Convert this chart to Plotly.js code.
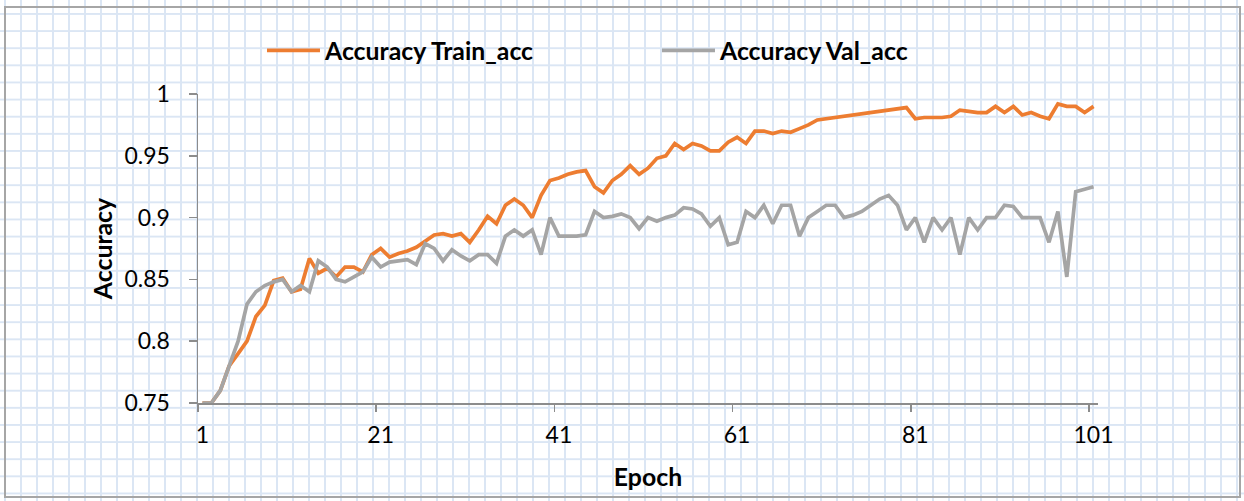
<!DOCTYPE html>
<html>
<head>
<meta charset="utf-8">
<script src="https://cdn.plot.ly/plotly-3.0.1.min.js"></script>
<style>
  html, body { margin: 0; padding: 0; }
  body {
    width: 1244px; height: 501px; overflow: hidden; position: relative;
    background-color: #ffffff;
    background-image:
      linear-gradient(to right, #dbe6f4 2px, transparent 2px),
      linear-gradient(to bottom, #dbe6f4 2px, transparent 2px);
    background-size: 16px 17.13px;
    background-position: 4px 13px;
  }
  #chart { position: absolute; left: 0; top: 0; width: 1244px; height: 501px; }
  #frame {
    position: absolute; left: 4px; top: 6px; width: 1237px; height: 492px;
    box-sizing: border-box; border: 2px solid #a6a6a6; pointer-events: none;
  }
</style>
</head>
<body>
<div id="chart"></div>
<div id="frame"></div>
<script>
const epochs = [1,2,3,4,5,6,7,8,9,10,11,12,13,14,15,16,17,18,19,20,
  21,22,23,24,25,26,27,28,29,30,31,32,33,34,35,36,37,38,39,40,
  41,42,43,44,45,46,47,48,49,50,51,52,53,54,55,56,57,58,59,60,
  61,62,63,64,65,66,67,68,69,70,71,72,73,74,75,76,77,78,79,80,
  81,82,83,84,85,86,87,88,89,90,91,92,93,94,95,96,97,98,99,100,101];

const trainAcc = [0.75,0.75,0.76,0.78,0.79,0.80,0.82,0.829,0.849,0.851,
  0.840,0.842,0.867,0.855,0.859,0.852,0.860,0.860,0.856,0.870,
  0.875,0.868,0.871,0.873,0.876,0.881,0.886,0.887,0.885,0.887,
  0.880,0.890,0.901,0.895,0.910,0.915,0.910,0.900,0.918,0.930,
  0.932,0.935,0.937,0.938,0.925,0.920,0.930,0.935,0.942,0.935,
  0.940,0.948,0.950,0.960,0.955,0.960,0.958,0.954,0.954,0.961,
  0.965,0.960,0.970,0.970,0.968,0.970,0.969,0.972,0.975,0.979,
  0.980,0.981,0.982,0.983,0.984,0.985,0.986,0.987,0.988,0.989,
  0.980,0.981,0.981,0.981,0.982,0.987,0.986,0.985,0.985,0.990,
  0.985,0.990,0.983,0.985,0.982,0.980,0.992,0.990,0.990,0.985,0.990];

const valAcc = [0.75,0.75,0.76,0.78,0.80,0.83,0.84,0.845,0.848,0.850,
  0.840,0.845,0.840,0.865,0.860,0.850,0.848,0.852,0.856,0.868,
  0.860,0.864,0.865,0.866,0.862,0.879,0.875,0.865,0.874,0.869,
  0.865,0.870,0.870,0.863,0.885,0.890,0.885,0.890,0.870,0.900,
  0.885,0.885,0.885,0.886,0.905,0.900,0.901,0.903,0.900,0.891,
  0.900,0.897,0.900,0.902,0.908,0.907,0.903,0.893,0.900,0.878,
  0.880,0.905,0.900,0.910,0.895,0.910,0.910,0.885,0.900,0.905,
  0.910,0.910,0.900,0.902,0.905,0.910,0.915,0.918,0.910,0.890,
  0.900,0.880,0.900,0.890,0.900,0.870,0.900,0.890,0.900,0.900,
  0.910,0.909,0.900,0.900,0.900,0.880,0.905,0.852,0.921,0.923,0.925];

const yTickVals = [0.75, 0.8, 0.85, 0.9, 0.95, 1];
const yTickText = ['0.75', '0.8', '0.85', '0.9', '0.95', '1'];

const FONT = 'Lato, "Open Sans", sans-serif';

const traces = [
  {
    x: epochs, y: trainAcc, type: 'scatter', mode: 'lines',
    name: 'Accuracy Train_acc',
    line: { color: '#ED7D31', width: 3.7 }
  },
  {
    x: epochs, y: valAcc, type: 'scatter', mode: 'lines',
    name: 'Accuracy Val_acc',
    line: { color: '#A5A5A5', width: 3.7 }
  }
];

const layout = {
  width: 1244, height: 501,
  margin: { l: 198, r: 146, t: 94, b: 98, pad: 0 },
  paper_bgcolor: 'rgba(0,0,0,0)',
  plot_bgcolor: 'rgba(0,0,0,0)',
  font: { family: FONT, size: 22, color: '#000000' },
  showlegend: true,
  legend: {
    orientation: 'h',
    x: 0.0711, xanchor: 'left',
    y: 1.14, yanchor: 'middle',
    itemwidth: 53,
    entrywidth: 327,
    bgcolor: 'rgba(0,0,0,0)',
    font: { family: FONT, size: 24.8, color: '#000000', weight: 700 },
    traceorder: 'normal'
  },
  xaxis: {
    type: 'category',
    range: [-0.5, 100.5],
    tickson: 'boundaries',
    tick0: 0, dtick: 20,
    tickangle: 0,
    ticks: 'outside', ticklen: 7, tickwidth: 1.5, tickcolor: '#8c8c8c',
    showline: true, linecolor: '#8c8c8c', linewidth: 1.5,
    showgrid: false, zeroline: false,
    ticklabelstandoff: 11,
    tickfont: { family: FONT, size: 23, color: '#000000' },
    title: { text: 'Epoch', standoff: 21,
      font: { family: FONT, size: 24.8, color: '#000000', weight: 700 } },
    automargin: false, fixedrange: true
  },
  yaxis: {
    range: [0.75, 1.0],
    tickvals: yTickVals, ticktext: yTickText,
    ticks: 'outside', ticklen: 8, tickwidth: 1.5, tickcolor: '#8c8c8c',
    showline: true, linecolor: '#8c8c8c', linewidth: 1.5,
    showgrid: false, zeroline: false,
    ticklabelstandoff: 14,
    tickfont: { family: FONT, size: 23, color: '#000000' },
    title: { text: 'Accuracy', standoff: 5,
      font: { family: FONT, size: 24.8, color: '#000000', weight: 700 } },
    automargin: false, fixedrange: true
  }
};

Plotly.newPlot('chart', traces, layout, { displayModeBar: false, staticPlot: true });
</script>
</body>
</html>
